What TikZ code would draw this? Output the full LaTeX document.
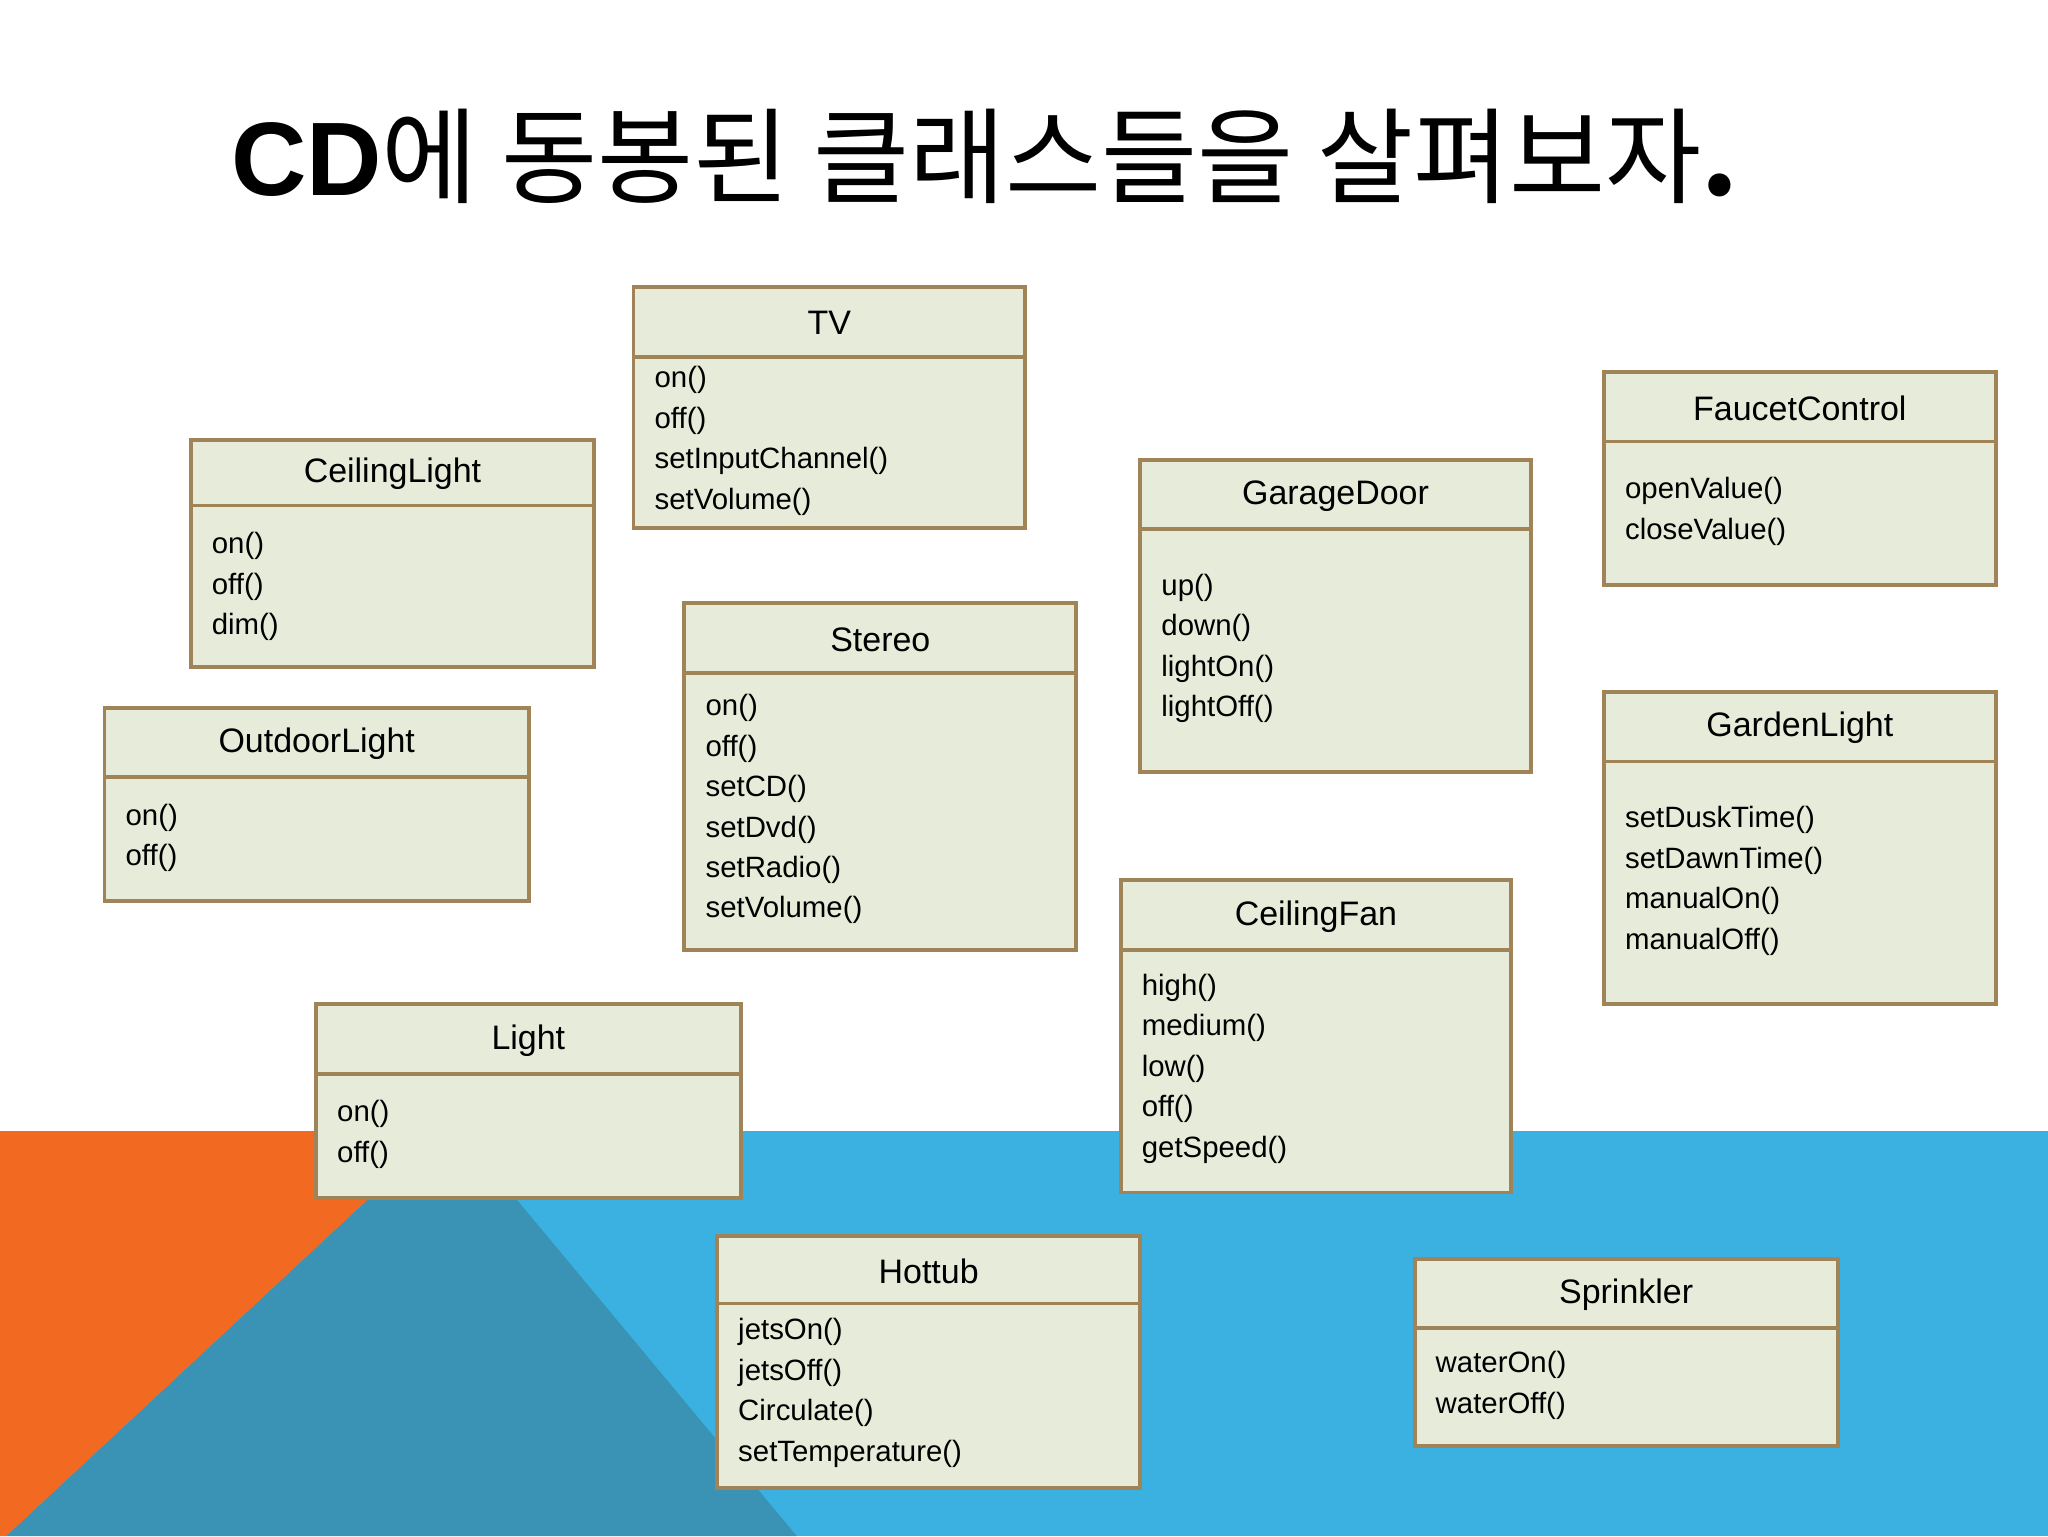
\documentclass[tikz,border=0pt]{standalone}
\usepackage{fontspec}
\setmainfont{Liberation Sans}
\newfontfamily\kr{Noto Sans CJK KR}
\definecolor{bg}{HTML}{3AB1E0}
\definecolor{org}{HTML}{F26A21}
\definecolor{dk}{HTML}{3A93B5}
\definecolor{fillc}{HTML}{E6EBDA}
\definecolor{edge}{HTML}{A08458}
\tikzset{box/.style={fill=fillc,draw=edge,line width=3pt},
 hdr/.style={font=\fontsize{26}{28}\selectfont,anchor=center},
 itm/.style={font=\fontsize{22.5}{24}\selectfont,anchor=west,inner sep=0pt}}
\newcommand{\umlbox}[9]{%
 \draw[box] (#2,#3) rectangle (#4,#5);
 \draw[edge,line width=3pt] (#2,#6) -- (#4,#6);
 \node[hdr] (#1) at ({(#2+#4)/2},{(#3+#6)/2+1}) {#1};
 \foreach \t [count=\i] in {#9} \node[itm] (#1-\i) at (#7,{#8+31*(\i-1)}) {\t};
}
\begin{document}
\begin{tikzpicture}[x=1pt,y=-1pt]
\useasboundingbox (0,0) rectangle (1568,1176);
\fill[bg] (0,866) rectangle (1568,1176);
\fill[org] (0,866) -- (338,866) -- (5,1176) -- (0,1176) -- cycle;
\fill[dk] (338,866) -- (352,866) -- (610,1176) -- (5,1176) -- cycle;
\node[font=\kr\fontsize{80}{84}\selectfont,anchor=center] (title) at (754,120) {{\bfseries\fontspec{Liberation Sans}CD}에 동봉된 클래스들을 살펴보자{\bfseries.}};
\umlbox{TV}{485}{220}{785}{404}{273}{501}{291}{on(),off(),setInputChannel(),setVolume()}
\umlbox{CeilingLight}{146}{337}{455}{511}{387}{162}{418}{on(),off(),dim()}
\umlbox{OutdoorLight}{80}{542}{405}{690}{595}{96}{626}{on(),off()}
\umlbox{Stereo}{524}{462}{824}{727}{515}{540}{542}{on(),off(),setCD(),setDvd(),setRadio(),setVolume()}
\umlbox{GarageDoor}{873}{352}{1172}{591}{405}{889}{450}{up(),down(),lightOn(),lightOff()}
\umlbox{FaucetControl}{1228}{285}{1528}{448}{338}{1244}{376}{openValue(),closeValue()}
\umlbox{GardenLight}{1228}{530}{1528}{769}{583}{1244}{628}{setDuskTime(),setDawnTime(),manualOn(),manualOff()}
\umlbox{CeilingFan}{858}{674}{1157}{913}{727}{874}{756}{high(),medium(),low(),off(),getSpeed()}
\umlbox{Light}{242}{769}{567}{917}{822}{258}{853}{on(),off()}
\umlbox{Hottub}{549}{946}{873}{1139}{998}{565}{1020}{jetsOn(),jetsOff(),Circulate(),setTemperature()}
\umlbox{Sprinkler}{1083}{964}{1407}{1107}{1017}{1099}{1045}{waterOn(),waterOff()}
\end{tikzpicture}
\end{document}
